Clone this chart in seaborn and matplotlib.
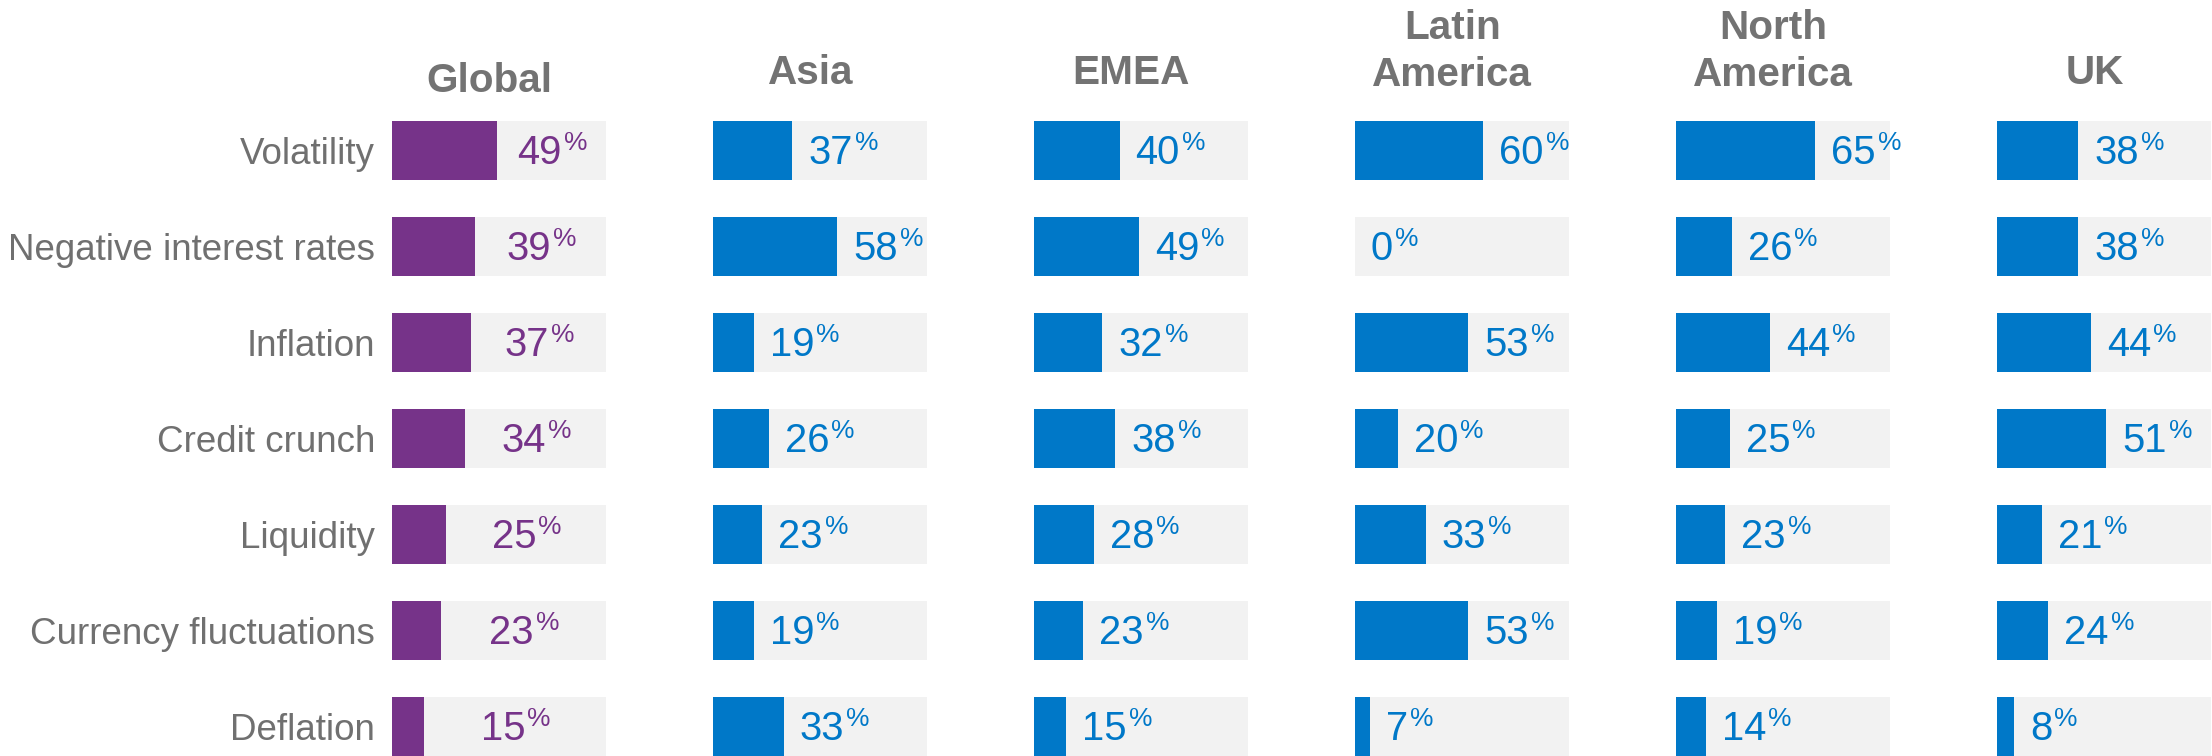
import matplotlib
matplotlib.use("Agg")
import matplotlib.pyplot as plt
import seaborn as sns
import pandas as pd

# ---------------- data ----------------
categories = ["Volatility", "Negative interest rates", "Inflation", "Credit crunch",
              "Liquidity", "Currency fluctuations", "Deflation"]
regions = ["Global", "Asia", "EMEA", "Latin\nAmerica", "North\nAmerica", "UK"]
global_vals = [49, 39, 37, 34, 25, 23, 15]
asia_vals = [37, 58, 19, 26, 23, 19, 33]
emea_vals = [40, 49, 32, 38, 28, 23, 15]
latam_vals = [60, 0, 53, 20, 33, 53, 7]
namer_vals = [65, 26, 44, 25, 23, 19, 14]
uk_vals = [38, 38, 44, 51, 21, 24, 8]
track_max = 100

series = [global_vals, asia_vals, emea_vals, latam_vals, namer_vals, uk_vals]

# ---------------- style ----------------
sns.set_style("white")
plt.rcParams["font.family"] = ["Liberation Sans", "DejaVu Sans"]

PURPLE = "#763389"
BLUE = "#0078C8"
TRACK = "#F2F2F2"
GREY_TXT = "#707070"
HEAD_TXT = "#737373"

W, H, DPI = 2212, 756, 100
fig = plt.figure(figsize=(W / DPI, H / DPI), dpi=DPI)

panel_left0 = 392
panel_pitch = 321
panel_w = 214
row_pitch = 96
first_center = 150.5
bar_h = 0.62
ylim_top = -0.5
ylim_bot = 6.31
ax_top_px = first_center + ylim_top * row_pitch
ax_h_px = (ylim_bot - ylim_top) * row_pitch

for i, (region, vals) in enumerate(zip(regions, series)):
    left = panel_left0 + i * panel_pitch
    ax = fig.add_axes([left / W, 1 - (ax_top_px + ax_h_px) / H, panel_w / W, ax_h_px / H])
    color = PURPLE if i == 0 else BLUE
    df = pd.DataFrame({"cat": categories, "val": vals, "track": [track_max] * len(categories)})
    sns.barplot(data=df, x="track", y="cat", orient="h", color=TRACK, saturation=1,
                width=bar_h, linewidth=0, errorbar=None, ax=ax)
    sns.barplot(data=df, x="val", y="cat", orient="h", color=color, saturation=1,
                width=bar_h, linewidth=0, errorbar=None, ax=ax)
    ax.set_xlim(0, track_max)
    ax.set_ylim(ylim_bot, ylim_top)
    for s in ax.spines.values():
        s.set_visible(False)
    ax.set_xticks([])
    ax.set_xlabel("")
    ax.set_ylabel("")
    ax.patch.set_alpha(0)
    if i == 0:
        ax.tick_params(axis="y", length=0, pad=12.2, labelsize=26.5, labelcolor=GREY_TXT)
    else:
        ax.set_yticks([])

    # value labels: number + superscript percent sign
    for r, v in enumerate(vals):
        if i == 0:
            num = ax.annotate(f"{v}", xy=((v + track_max) / 2, r), xytext=(-12, 1),
                              textcoords="offset pixels", ha="center", va="center_baseline",
                              fontsize=28.8, color=color)
        else:
            num = ax.annotate(f"{v}", xy=(v, r), xytext=(16, 1),
                              textcoords="offset pixels", ha="left", va="center_baseline",
                              fontsize=28.8, color=color)
        ax.annotate("%", xy=(1, 1), xycoords=num, xytext=(2, 3),
                    textcoords="offset pixels", ha="left", va="top",
                    fontsize=19, color=color)

    # header
    if "\n" in region:
        top_px = 9
    elif i == 0:
        top_px = 62
    else:
        top_px = 54
    fig.text((left + 0.455 * panel_w) / W, 1 - top_px / H, region, ha="center", va="top",
             fontsize=29.2, fontweight="bold", color=HEAD_TXT, linespacing=1.29,
             multialignment="center")

fig.savefig("out.png", dpi=DPI)
